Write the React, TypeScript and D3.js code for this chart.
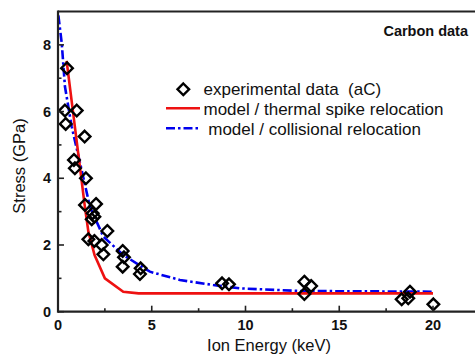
import React from "react";
import * as d3 from "d3";

const expX = [0.48, 0.37, 1.0, 0.41, 1.42, 0.85, 0.9, 1.49, 1.44, 2.03, 1.85, 1.8, 1.94, 1.62, 1.94, 2.63, 2.33, 2.42, 3.45, 3.52, 3.45, 4.41, 4.37, 8.75, 9.12, 13.14, 13.5, 13.14, 18.33, 18.77, 18.68, 20.02];
const expY = [7.3, 6.03, 6.03, 5.63, 5.25, 4.55, 4.3, 4.0, 3.2, 3.23, 2.95, 2.77, 2.85, 2.17, 2.12, 2.42, 2.0, 1.72, 1.82, 1.63, 1.35, 1.3, 1.13, 0.85, 0.82, 0.9, 0.77, 0.53, 0.37, 0.6, 0.4, 0.22];

const thermalX = [0.46, 1.2, 1.42, 1.62, 1.95, 2.5, 3.48, 4.3, 20];
const thermalY = [7.52, 4.2, 3.2, 2.4, 1.7, 1.0, 0.6, 0.55, 0.55];

const collX = [0.02, 0.2, 0.37, 0.73, 1.26, 1.7, 2.42, 3.48, 4.9, 6.5, 8.28, 9.7, 13, 20];
const collY = [8.88, 8.05, 6.75, 5.55, 4.25, 3.15, 2.25, 1.7, 1.2, 0.95, 0.8, 0.7, 0.62, 0.6];

const xMajor = [0, 5, 10, 15, 20];
const xMinor = [2.5, 7.5, 12.5, 17.5];
const yMajor = [0, 2, 4, 6, 8];
const yMinor = [1, 3, 5, 7];

const legendLabels = ["experimental data  (aC)", "model / thermal spike relocation", " model / collisional relocation"];

export default function App() {
  const W = 475, H = 356;
  const x = d3.scaleLinear().domain([0, 20]).range([58, 433]);
  const y = d3.scaleLinear().domain([0, 9]).range([311.7, 11.5]);
  const xEnd = x.invert(W);
  const line = d3.line<number>().x((d) => x(d[0])).y((d) => y(d[1]));
  const thermal = thermalX.map((v, i) => [v, thermalY[i]]);
  const coll = collX.map((v, i) => [v, collY[i]]);
  const diamond = (cx: number, cy: number, r: number) =>
    `M${cx},${cy - r}L${cx + r},${cy}L${cx},${cy + r}L${cx - r},${cy}Z`;
  const axisColor = "#222";
  const font = "'Liberation Sans', Arial, sans-serif";
  const dash = "9,3,2.5,3";
  return (
    <svg width={W} height={H} style={{ position: "absolute", left: 0, top: 0, background: "#fff" }} fontFamily={font}>
      <rect width={W} height={H} fill="#fff" />
      {/* curves */}
      <path d={line(coll as any) || ""} fill="none" stroke="#0000ee" strokeWidth={2.6} strokeDasharray={dash} />
      <path d={line(thermal as any) || ""} fill="none" stroke="#ee1111" strokeWidth={2.6} />
      {/* data */}
      {expX.map((v, i) => (
        <path key={i} d={diamond(x(v), y(expY[i]), 5.8)} fill="none" stroke="#000" strokeWidth={2.4} />
      ))}
      {/* axes */}
      <line x1={x(0)} x2={x(xEnd)} y1={y(0)} y2={y(0)} stroke={axisColor} strokeWidth={2.2} />
      <line x1={x(0)} x2={x(xEnd)} y1={y(9)} y2={y(9)} stroke={axisColor} strokeWidth={2.2} />
      <line x1={x(0)} x2={x(0)} y1={y(0) + 1} y2={y(9) - 1} stroke={axisColor} strokeWidth={2.2} />
      {xMajor.map((t) => (
        <g key={"xM" + t}>
          <line x1={x(t)} x2={x(t)} y1={y(0)} y2={y(0) - 6} stroke={axisColor} strokeWidth={1.6} />
          <text x={x(t)} y={330} textAnchor="middle" fontWeight="bold" fontSize={14.5} fill="#111">{t}</text>
        </g>
      ))}
      {xMinor.map((t) => (
        <line key={"xm" + t} x1={x(t)} x2={x(t)} y1={y(0)} y2={y(0) - 3.5} stroke={axisColor} strokeWidth={1.6} />
      ))}
      {yMajor.map((t) => (
        <g key={"yM" + t}>
          <line x1={x(0)} x2={x(0) + 6} y1={y(t)} y2={y(t)} stroke={axisColor} strokeWidth={1.6} />
          <text x={51} y={y(t) + 5} textAnchor="end" fontWeight="bold" fontSize={14.5} fill="#111">{t}</text>
        </g>
      ))}
      {yMinor.map((t) => (
        <line key={"ym" + t} x1={x(0)} x2={x(0) + 3.5} y1={y(t)} y2={y(t)} stroke={axisColor} strokeWidth={1.6} />
      ))}
      {/* axis titles */}
      <text x={269} y={351} textAnchor="middle" fontSize={16.5} fill="#111">Ion Energy (keV)</text>
      <text transform={`translate(25,166) rotate(-90)`} textAnchor="middle" fontSize={16.5} fill="#111">Stress (GPa)</text>
      {/* annotation */}
      <text x={468} y={36} textAnchor="end" fontWeight="bold" fontSize={14.5} fill="#111">Carbon data</text>
      {/* legend */}
      <path d={diamond(183.3, 89.3, 5.8)} fill="none" stroke="#000" strokeWidth={2.4} />
      <text x={203.5} y={95} fontSize={17} fill="#111" style={{ whiteSpace: "pre" }}>{legendLabels[0]}</text>
      <line x1={166} x2={200} y1={108.3} y2={108.3} stroke="#ee1111" strokeWidth={2.6} />
      <text x={203.5} y={114.5} fontSize={17} fill="#111" style={{ whiteSpace: "pre" }}>{legendLabels[1]}</text>
      <line x1={166} x2={200} y1={128.3} y2={128.3} stroke="#0000ee" strokeWidth={2.6} strokeDasharray={dash} />
      <text x={203.5} y={134.5} fontSize={17} fill="#111" style={{ whiteSpace: "pre" }}>{legendLabels[2]}</text>
    </svg>
  );
}
